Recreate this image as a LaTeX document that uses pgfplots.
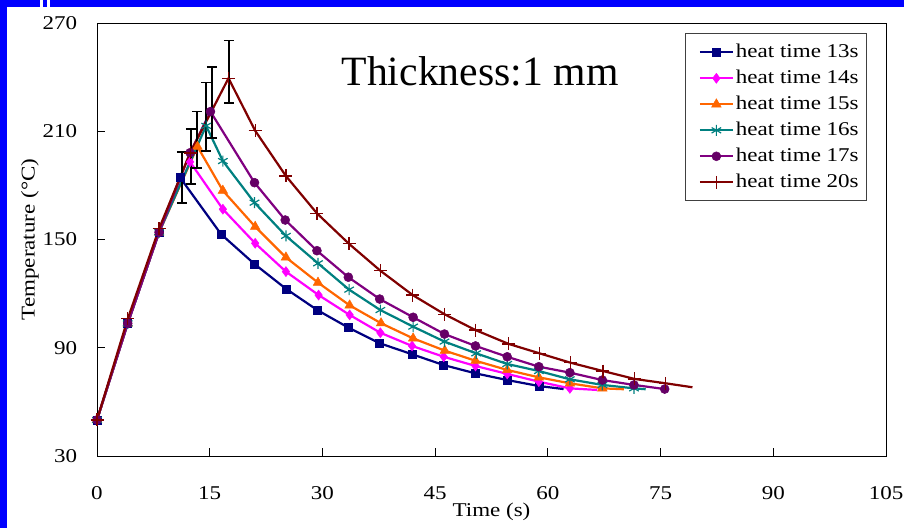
\documentclass[border=0pt]{standalone}
\usepackage{fontspec}
\setmainfont{Liberation Serif}[FakeStretch=1.18]
\newfontfamily\titlefont{Liberation Serif}
\usepackage{pgfplots}
\pgfplotsset{compat=1.18}
\definecolor{cA}{RGB}{0,0,128}
\definecolor{cB}{RGB}{255,0,255}
\definecolor{cC}{RGB}{255,102,0}
\definecolor{cD}{RGB}{0,128,128}
\definecolor{cE}{RGB}{128,0,128}
\definecolor{cEm}{RGB}{102,0,102}
\definecolor{cF}{RGB}{128,0,0}
\newcommand{\lbf}{\fontsize{19.5}{23}\selectfont}
\begin{document}
\begin{tikzpicture}
\useasboundingbox (0pt,0pt) rectangle (904pt,528pt);
\fill[blue] (0pt,0pt) rectangle (904pt,528pt);
\fill[white] (7pt,0pt) rectangle (904pt,521pt);
\fill[white] (39.5pt,521pt) rectangle (42.5pt,528pt);
\fill[white] (47pt,521pt) rectangle (50pt,528pt);
\begin{axis}[
  at={(97pt,72pt)}, anchor=south west,
  scale only axis, width=789pt, height=433pt,
  xmin=0, xmax=105, ymin=30, ymax=270,
  xtick={0,15,...,105}, ytick={30,90,...,270},
  tick align=inside, xtick pos=bottom, ytick pos=left,
  major tick length=8pt,
  tick style={black, line width=1pt},
  axis line style={black, line width=1pt},
  /pgf/number format/assume math mode=true,
  ticklabel style={font=\lbf},
  xticklabel style={anchor=base, yshift=-43pt},
  yticklabel style={anchor=east, inner sep=0pt, xshift=-19.7pt},
  xlabel={Time (s)}, ylabel={Temperature (°C)},
  label style={font=\lbf},
  xlabel style={at={(axis description cs:0.5,0)}, anchor=base, yshift=-60pt},
  ylabel style={at={(axis description cs:-0.085,0.5)}, anchor=center},
  legend style={at={(0.976,0.976)}, anchor=north east, draw=black!75,
    line width=0.8pt, font=\lbf, inner xsep=6pt, inner ysep=5.5pt, row sep=0pt,
    nodes={text height=14.5pt, text depth=4.5pt, inner ysep=3.5pt}},
  legend cell align=left,
  legend image code/.code={\path (-7pt,0pt); \draw[mark repeat=2,mark phase=2,#1] plot coordinates {(0pt,0pt) (16.5pt,0pt) (33pt,0pt)};},
  every axis plot/.append style={line width=2.2pt},
]
\addplot[cA, mark=square*, mark size=4pt, mark options={solid, line width=0.5pt, fill=cA}] coordinates {
(0,50) (4.09,103.5) (8.26,154) (11.06,184.3) (16.52,152.9) (20.96,136.4) (25.14,122.7) (29.31,110.9) (33.48,101.1) (37.62,92.5) (41.93,86.4) (46.14,80.4) (50.37,75.8) (54.59,72.1) (58.8,68.8)};
\addlegendentry{heat time 13s}
\addplot[cB, mark=diamond*, mark size=5pt, mark options={solid, line width=0.5pt, fill=cB}] coordinates {
(0,50) (4.09,103.5) (8.26,154) (12.39,193) (16.75,166.8) (21.05,147.9) (25.14,132.2) (29.49,119.2) (33.62,108.2) (37.71,98.3) (41.93,91) (46.14,85) (50.37,79.9) (54.59,75.5) (58.8,71.2) (62.93,67.5)};
\addlegendentry{heat time 14s}
\addplot[cC, mark=triangle*, mark size=5.5pt, mark options={solid, line width=0.5pt, fill=cC}] coordinates {
(0,50) (4.09,103.5) (8.26,154) (13.37,201.5) (16.75,177.1) (21.05,157.1) (25.14,140.1) (29.41,126.1) (33.62,113.5) (37.8,103.6) (42.07,95.2) (46.28,88.4) (50.37,82.8) (54.59,77.7) (58.8,73.6) (62.93,70.3) (67.25,67.5)};
\addlegendentry{heat time 15s}
\addplot[cD, mark=asterisk, mark size=5.5pt, mark options={solid, line width=1.2pt}] coordinates {
(0,50) (4.09,103.5) (8.26,154) (14.52,213) (16.75,193.5) (20.96,170.4) (25.14,152) (29.41,136.8) (33.55,122.2) (37.71,110.9) (42.07,101.7) (46.24,93.4) (50.46,86.9) (54.59,81) (58.8,77.1) (62.93,72.5) (67.25,69.4) (71.46,67.5)};
\addlegendentry{heat time 16s}
\addplot[cE, mark=*, mark size=4.5pt, mark options={solid, line width=0.5pt, draw=cEm, fill=cEm}] coordinates {
(0,50) (4.09,103.5) (8.26,154) (12.39,198.1) (15.1,220.9) (20.96,181.5) (25.05,160.8) (29.27,143.8) (33.45,129.1) (37.62,117) (42.07,106.9) (46.24,97.6) (50.37,91) (54.59,85) (58.8,79.5) (62.93,76.2) (67.25,72.1) (71.46,69.4) (75.55,67.1)};
\addlegendentry{heat time 17s}
\addplot[cF, mark=+, mark size=6.5pt, mark options={solid, line width=1.2pt}] coordinates {
(0,50) (4.09,106) (8.26,156) (12.39,198) (17.5,239.4) (21.05,210.3) (25.14,185.2) (29.27,164.5) (33.54,147.6) (37.71,132.7) (42.01,119.2) (46.28,108.5) (50.37,99.8) (54.8,92.1) (58.9,86.9) (63.02,81.7) (67.33,77.1) (71.55,72.7) (75.68,70.3)};
\addlegendentry{heat time 20s}
% line ends beyond the last marker
\addplot[cA, no marks, forget plot] coordinates {(58.8,68.8) (62.09,67.1)};
\addplot[cB, no marks, forget plot] coordinates {(62.93,67.5) (66.58,66.6)};
\addplot[cC, no marks, forget plot] coordinates {(67.25,67.5) (70.13,67)};
\addplot[cD, no marks, forget plot] coordinates {(71.46,67.5) (73.02,67)};
\addplot[cF, no marks, forget plot] coordinates {(75.68,70.3) (79.24,68.1)};
\addplot[draw=none, mark=none, forget plot,
  error bars/.cd, y dir=both, y explicit,
  error bar style={draw=black, solid, line width=1.8pt},
  error mark options={draw=black, rotate=90, mark size=5pt, line width=1.8pt}]
  table[x=x, y=y, y error=e] {
x y e
11.29 184.3 14.1
12.49 196 15.2
13.28 205.3 15.6
14.48 218 19
15.28 225.8 19.7
17.55 242.9 17.4
};
\end{axis}
\node[font=\titlefont\fontsize{41.7}{48}\selectfont, anchor=base, inner sep=0pt] at (480pt,442pt) {Thickness:1 mm};
\end{tikzpicture}
\end{document}
